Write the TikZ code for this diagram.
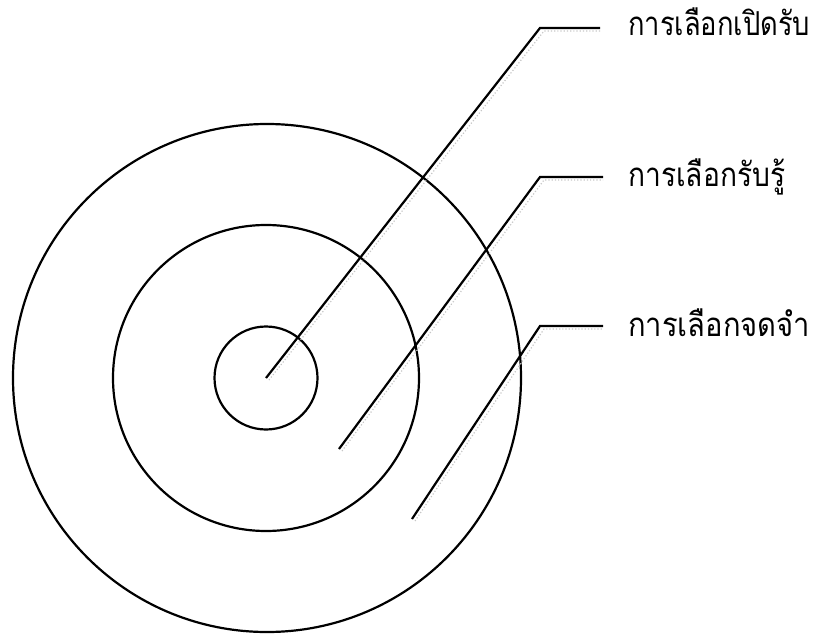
\documentclass[tikz,border=0pt]{standalone}
\usepackage{graphicx}
\usepackage{fontspec}
\newfontfamily\thaifont[Script=Thai]{Loma}
\begin{document}
\begin{tikzpicture}[x=1pt,y=-1pt,
  ring/.style={draw=black,line width=2.2pt,circle,inner sep=0pt},
  leader/.style={draw=black,line width=2.2pt,line join=miter},
  shade/.style={draw=black!22,line width=1.2pt,dotted},
  lbl/.style={anchor=base west,inner sep=0pt,font=\thaifont\fontsize{33}{38}\selectfont}]
\useasboundingbox (0,0) rectangle (817,634);
\node[ring,minimum size=508pt] (outer) at (267,378) {};
\node[ring,minimum size=306pt] (middle) at (266,378) {};
\node[ring,minimum size=103pt] (inner) at (266,378) {};
% leader points
\coordinate (p1) at (266,378);
\coordinate (k1) at (540,28);
\coordinate (e1) at (600,28);
\coordinate (p2) at (339,449);
\coordinate (k2) at (540,177);
\coordinate (e2) at (603,177);
\coordinate (p3) at (412,519);
\coordinate (k3) at (540,326);
\coordinate (e3) at (603,326);
% shadows
\draw[shade] ([shift={(3,2)}]p1) -- ([shift={(4,3)}]k1) -- ([shift={(0,3)}]e1);
\draw[shade] ([shift={(3,2)}]p2) -- ([shift={(4,3)}]k2) -- ([shift={(0,3)}]e2);
\draw[shade] ([shift={(3,2)}]p3) -- ([shift={(4,3)}]k3) -- ([shift={(0,3)}]e3);
% leaders
\draw[leader] (p1) -- (k1) -- (e1);
\draw[leader] (p2) -- (k2) -- (e2);
\draw[leader] (p3) -- (k3) -- (e3);
% labels
\node[lbl] (t1) at (628,36) {\resizebox{182pt}{\height}{การเลือกเปิดรับ}};
\node[lbl] (t2) at (628,186) {\resizebox{157pt}{\height}{การเลือกรับรู้}};
\node[lbl] (t3) at (628,336) {\resizebox{182pt}{\height}{การเลือกจดจำ}};
\end{tikzpicture}
\end{document}
